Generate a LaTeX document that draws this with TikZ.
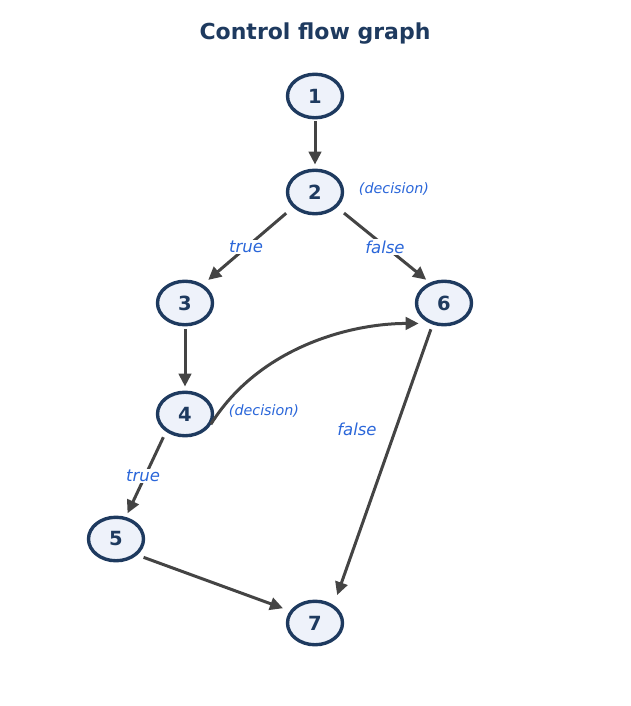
\documentclass[tikz,border=0pt]{standalone}
\usepackage{fontspec}
\setmainfont{DejaVu Sans}
\usetikzlibrary{arrows.meta,shapes.geometric}
\definecolor{navy}{HTML}{1E3A5F}
\definecolor{nodefill}{HTML}{EEF2FA}
\definecolor{lblblue}{HTML}{2A66D9}
\definecolor{edgegray}{HTML}{444444}

\begin{document}
\begin{tikzpicture}[x=1pt,y=1pt,yscale=-1,xscale=1,
    cfgnode/.style={ellipse,draw=navy,fill=nodefill,line width=3.4pt,minimum width=55pt,minimum height=43.5pt,inner sep=0pt,text=navy,font=\fontsize{19.5}{21}\selectfont\bfseries},
    flow/.style={draw=edgegray,line width=3pt,-{Triangle[length=13pt,width=12.5pt]}},
    branch/.style={text=lblblue,font=\fontsize{16.5}{18}\selectfont\itshape,inner sep=1.5pt},
    note/.style={text=lblblue,font=\fontsize{14.3}{16}\selectfont\itshape,inner sep=0pt}]
      \useasboundingbox (0,0) rectangle (630,706);

      % Title
      \node (title) at (315,34) [text=navy,font=\fontsize{22}{24}\selectfont\bfseries] {Control flow graph};

      % Blocks
      \node (n1) at (315,96) [cfgnode] {1};
      \node (n2) at (315,192) [cfgnode] {2};
      \node (n3) at (185,303) [cfgnode] {3};
      \node (n6) at (444,303) [cfgnode] {6};
      \node (n4) at (185,414) [cfgnode] {4};
      \node (n5) at (116,539) [cfgnode] {5};
      \node (n7) at (315,623) [cfgnode] {7};

      % Edges
      \draw [flow,shorten <=2pt,shorten >=4pt] (n1.south) -- (n2.north);
      \draw [flow,shorten <=9pt,shorten >=7pt] (n2.215.5) -- (n3.46.7);
      \draw [flow,shorten <=9pt,shorten >=4.5pt] (n2.-35.5) -- (n6.125.3);
      \draw [flow,shorten <=3pt,shorten >=4pt] (n3.south) -- (n4.north);
      \draw [flow,shorten <=6pt,shorten >=4pt] (n4.223.3) -- (n5.66.6);
      \draw [flow,shorten <=6.7pt,shorten >=7.5pt] (n5.-37.7) -- (n7.154.6);
      \draw [flow,shorten <=5pt,shorten >=10.5pt] (n6.242.2) -- (n7.44.7);
      \draw [flow,shorten <=4pt,shorten >=11pt] (n4.-30) .. controls +(50,-80) and +(-80,0) .. (n6.235);

      % Branch labels
      \node (t23) at (246,247) [branch,fill=white] {true};
      \node (f26) at (385,247) [branch,fill=white] {false};
      \node (t45) at (143,476) [branch,fill=white] {true};
      \node (f46) at (357,429) [branch] {false};

      % Decision notes
      \node (d2) at (394,189) [note] {(decision)};
      \node (d4) at (264,411) [note] {(decision)};
\end{tikzpicture}
\end{document}
